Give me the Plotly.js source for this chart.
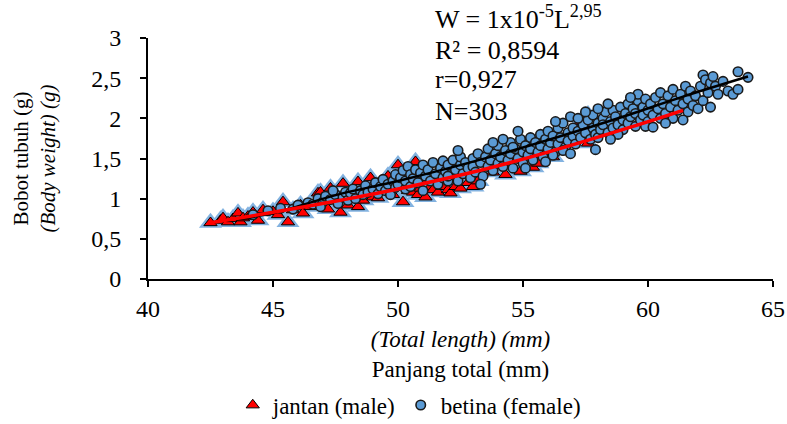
<!DOCTYPE html>
<html>
<head>
<meta charset="utf-8">
<script src="https://cdn.plot.ly/plotly-3.0.1.min.js"></script>
<style>
html,body{margin:0;padding:0;background:#fff;}
#chart{width:787px;height:424px;}
svg text{font-family:"Liberation Serif","Times New Roman",serif !important;}
</style>
</head>
<body>
<div id="chart"></div>
<script>
// Jantan (male) – total length (mm) and body weight (g)
const maleL = [42.5,42.9,43.0,43.2,43.4,43.6,43.7,43.8,44.0,44.2,44.4,44.6,45.0,45.2,45.4,45.6,45.8,46.1,46.2,46.5,46.8,46.9,47.0,47.2,47.3,47.7,47.8,48.0,48.2,48.4,48.4,48.6,48.9,49.0,49.2,49.4,49.6,49.8,50.0,50.2,50.4,50.6,50.6,50.7,50.8,50.9,51.0,51.1,51.3,51.4,51.6,51.8,52.0,52.1,52.2,52.3,52.5,52.8,53.0,53.2,53.8,54.3,54.9,55.4,55.6,56.2,57.3,57.6,57.6];
const maleW = [0.70,0.73,0.76,0.71,0.75,0.82,0.71,0.76,0.78,0.83,0.73,0.86,0.84,0.80,0.96,0.71,0.86,0.92,0.82,0.90,1.07,1.08,0.94,0.87,1.13,0.83,1.19,0.92,1.02,0.90,1.21,0.98,1.26,1.02,1.01,1.14,1.28,1.05,1.42,0.96,1.10,1.08,1.38,1.46,1.05,1.13,1.22,1.02,1.15,1.11,1.08,1.15,1.11,1.07,1.25,1.15,1.13,1.20,1.15,1.22,1.33,1.30,1.34,1.39,1.44,1.52,1.96,2.04,1.69];

// Betina (female)
const femaleL = [44.2,44.8,45.3,45.8,46.0,46.4,
46.6,46.8,47.0,47.1,47.3,47.5,47.6,47.8,47.9,48.0,47.4,46.9,
48.1,48.2,48.3,48.5,48.6,48.7,48.8,49.0,49.1,49.2,49.3,49.4,49.5,49.6,49.7,49.8,49.9,49.9,
50.0,50.1,50.2,50.3,50.3,50.4,50.5,50.5,50.6,50.7,50.8,50.9,51.0,51.0,51.1,51.2,51.3,51.4,51.5,51.6,51.7,51.8,51.8,51.9,52.0,52.0,
52.1,52.2,52.3,52.4,52.5,52.5,52.6,52.7,52.8,52.9,53.0,53.0,53.1,53.2,53.3,53.4,53.5,53.6,53.6,53.7,53.8,53.9,54.0,54.0,53.3,52.4,53.8,52.0,
54.1,54.2,54.3,54.4,54.5,54.5,54.6,54.7,54.8,54.9,55.0,55.0,55.1,55.2,55.3,55.3,55.4,55.5,55.6,55.7,55.7,55.8,55.9,56.0,56.0,54.2,55.1,54.8,55.9,54.6,
56.1,56.2,56.3,56.4,56.4,56.5,56.6,56.7,56.8,56.8,56.9,57.0,57.0,57.1,57.2,57.3,57.4,57.5,57.6,57.7,57.8,57.8,57.9,57.9,58.0,56.2,56.6,57.2,56.9,57.5,58.0,56.3,
58.1,58.2,58.2,58.3,58.4,58.5,58.6,58.6,58.7,58.8,58.9,59.0,59.0,59.1,59.2,59.2,59.3,59.4,59.5,59.5,59.6,59.6,59.7,59.8,59.8,59.9,60.0,60.0,58.4,58.8,59.3,58.5,59.9,58.0,
60.1,60.2,60.2,60.3,60.4,60.5,60.5,60.6,60.7,60.8,60.9,61.0,61.0,61.1,61.2,61.3,61.4,61.5,61.6,61.6,61.7,61.8,61.9,62.0,60.7,61.4,
62.1,62.2,62.2,62.3,62.4,62.5,62.5,62.7,62.8,63.0,63.2,63.4,63.6,63.6,64.0,62.6];
const femaleW = [0.80,0.85,0.88,0.87,0.92,0.95,
0.93,1.00,0.96,1.03,0.99,1.05,0.94,1.02,1.08,0.98,1.10,0.90,
1.07,1.12,1.00,1.10,1.05,1.16,1.08,1.12,1.20,1.06,1.15,1.24,1.10,1.18,1.05,1.22,1.30,1.14,
1.18,1.26,1.35,1.12,1.22,1.40,1.30,1.15,1.25,1.36,1.20,1.32,1.42,1.10,1.28,1.36,1.22,1.45,1.31,1.18,1.38,1.26,1.47,1.34,1.22,1.42,
1.30,1.48,1.36,1.22,1.42,1.52,1.31,1.45,1.38,1.26,1.50,1.40,1.33,1.56,1.45,1.28,1.52,1.40,1.62,1.48,1.35,1.56,1.44,1.66,1.18,1.60,1.70,1.28,
1.52,1.40,1.60,1.48,1.70,1.56,1.38,1.62,1.50,1.74,1.58,1.44,1.66,1.54,1.76,1.62,1.48,1.70,1.58,1.80,1.66,1.52,1.74,1.62,1.84,1.74,1.38,1.84,1.46,1.64,
1.70,1.78,1.58,1.88,1.68,1.76,1.94,1.64,1.82,1.72,2.02,1.78,1.88,1.68,1.84,1.76,1.92,1.82,1.98,1.74,1.88,2.04,1.61,1.80,1.94,1.54,1.60,2.00,1.56,2.08,1.76,1.96,
1.86,2.00,1.92,2.08,1.82,1.96,2.10,1.88,2.02,1.92,2.14,1.98,1.86,2.06,2.18,1.94,2.02,2.12,1.90,2.06,2.22,2.30,1.98,2.14,2.04,2.24,1.96,2.10,2.18,1.80,2.26,1.74,1.90,2.12,
2.18,2.04,1.89,2.26,2.12,2.00,2.32,2.18,2.06,2.28,2.14,2.36,2.00,2.22,2.10,2.30,2.18,2.40,2.24,2.08,2.34,2.16,2.28,2.12,1.94,1.98,
2.40,2.54,2.22,2.48,2.32,2.44,2.14,2.40,2.30,2.46,2.34,2.30,2.58,2.36,2.51,2.52];

// Power trend lines
const trendAllL = [43.5,45.0,47.7,50.0,53.7,56.0,58.9,61.4,64.0];
const trendAllW = [0.74,0.82,1.06,1.22,1.52,1.73,2.01,2.27,2.52];
const trendMaleL = [42.5,45.0,47.7,50.0,53.5,56.0,59.3,61.4];
const trendMaleW = [0.70,0.83,0.98,1.12,1.37,1.58,1.89,2.10];

const annotLines = ['W = 1x10<sup>-5</sup>L<sup>2,95</sup>','R² = 0,8594','r=0,927','N=303'];

const FONT = 'Liberation Serif, Times New Roman, serif';

const traces = [
  {x: maleL, y: maleW, type: 'scatter', mode: 'markers', showlegend: false, hoverinfo: 'skip',
   marker: {symbol: 'triangle-up', size: 20, color: '#82B2E0', line: {width: 0}}},
  {x: maleL, y: maleW, type: 'scatter', mode: 'markers', name: 'jantan (male)',
   marker: {symbol: 'triangle-up', size: 11.5, color: '#FF0000', line: {width: 1, color: '#000'}}},
  {x: femaleL, y: femaleW, type: 'scatter', mode: 'markers', name: 'betina (female)',
   marker: {symbol: 'circle', size: 9.5, color: '#5B9BD5', line: {width: 1.6, color: '#1a1a1a'}}},
  {x: trendAllL, y: trendAllW, type: 'scatter', mode: 'lines', showlegend: false, hoverinfo: 'skip',
   line: {color: '#000', width: 2.5, shape: 'spline'}},
  {x: trendMaleL, y: trendMaleW, type: 'scatter', mode: 'lines', showlegend: false, hoverinfo: 'skip',
   line: {color: '#FF0000', width: 3.5, shape: 'spline'}}
];

const annYs = [1.083, 0.950, 0.826, 0.697];
const annotations = annotLines.map((t, i) => ({
  text: t, xref: 'paper', yref: 'paper', x: (433 - 148) / 625, y: annYs[i],
  xanchor: 'left', yanchor: 'middle', showarrow: false,
  font: {family: FONT, size: 26, color: '#000'}
}));

const layout = {
  width: 787, height: 424,
  margin: {l: 148, r: 14, t: 38, b: 145, autoexpand: false},
  paper_bgcolor: '#fff', plot_bgcolor: '#fff',
  separators: ', ',
  font: {family: FONT, size: 23, color: '#000'},
  xaxis: {
    range: [40, 65], dtick: 5, tick0: 40, showgrid: false, zeroline: false,
    showline: true, linecolor: '#000', linewidth: 2, automargin: false,
    ticks: 'outside', ticklen: 6, tickwidth: 2, tickcolor: '#000',
    tickfont: {family: FONT, size: 24, color: '#000'},
    ticklabelstandoff: 1,
    title: {text: '<i>(Total length) (mm)</i><br>Panjang total (mm)', font: {family: FONT, size: 23, color: '#000'}, standoff: 10}
  },
  yaxis: {
    range: [0, 3], dtick: 0.5, tick0: 0, showgrid: false, zeroline: false,
    showline: true, linecolor: '#000', linewidth: 2, automargin: false,
    ticks: 'outside', ticklen: 6, tickwidth: 2, tickcolor: '#000',
    tickfont: {family: FONT, size: 24, color: '#000'},
    ticklabelstandoff: 14,
    title: {text: 'Bobot tubuh (g)<br><i>(Body weight) (g)</i>', font: {family: FONT, size: 21, color: '#000'}, standoff: 30}
  },
  legend: {
    orientation: 'h', x: 0.418, xanchor: 'center', y: -0.523, yanchor: 'middle',
    font: {family: FONT, size: 23, color: '#000'}, itemwidth: 30, bgcolor: 'rgba(0,0,0,0)'
  },
  annotations: annotations,
  showlegend: true
};

Plotly.newPlot('chart', traces, layout, {displayModeBar: false, staticPlot: true});
</script>
</body>
</html>
